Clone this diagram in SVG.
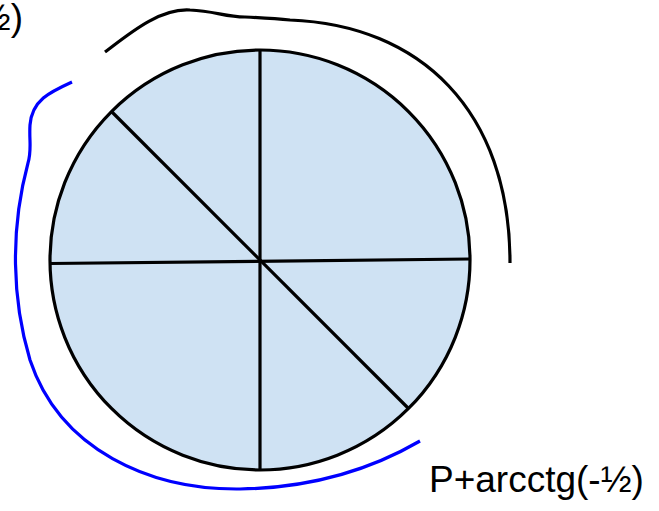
<svg xmlns="http://www.w3.org/2000/svg" width="659" height="511" viewBox="0 0 659 511">
<style>
.ln{fill:none;stroke:#000;stroke-width:3.2;stroke-linecap:butt}
.lbl{font-family:"Liberation Sans",Arial,sans-serif;font-size:37px;fill:#000}
</style>
<rect width="659" height="511" fill="#fff"/>
<g id="circle">
<circle cx="260" cy="260" r="210" fill="#cfe2f3" stroke="#000" stroke-width="3.2"/>
<line class="ln" x1="260" y1="50" x2="260" y2="470"/>
<line class="ln" x1="50" y1="263.5" x2="470" y2="259"/>
<line class="ln" x1="111.5" y1="111.5" x2="408.5" y2="408.5"/>
</g>
<g id="connectors">
<path class="ln" d="M105,52 C130,33 160,8 190,10 C215,11 225,17 245,17 C265,18 280,19 290,20 C420,25 510,110 510,263"/>
<path d="M72,82 C50,92 32,100 30,125 C29,140 32,150 28,163 C10,230 12,300 30,360 C60,450 150,490 240,489 C310,488 370,470 420,441" fill="none" stroke="#0000ff" stroke-width="3.2"/>
</g>
<g id="labels">
<text class="lbl" x="23" y="30" text-anchor="end">½)</text>
<text class="lbl" x="429" y="492">P+arcctg(-½)</text>
</g>
</svg>
